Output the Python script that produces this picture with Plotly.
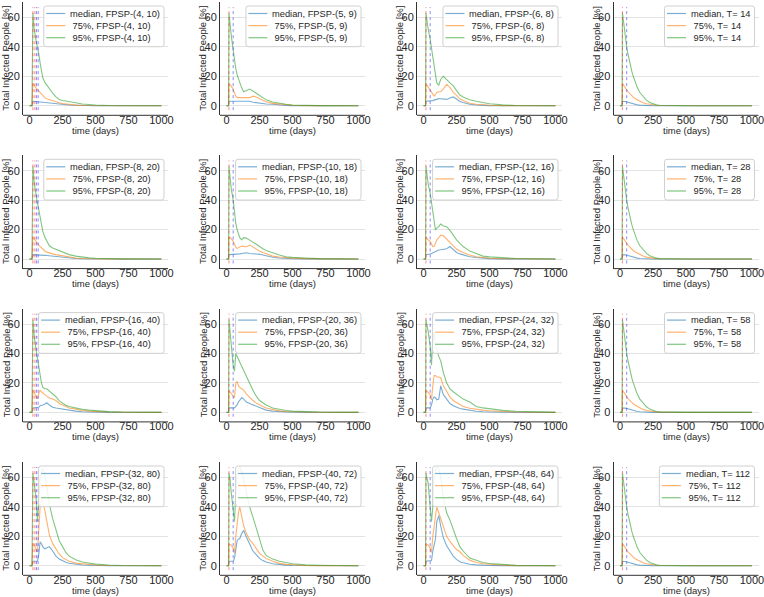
import plotly.graph_objects as go

W, H = 764, 597

# ---------------- data ----------------
DAYS = [0, 10, 15, 18, 25, 35, 50, 60, 70, 80, 90, 100, 115, 130, 150, 175,
        200, 225, 250, 275, 300, 350, 400, 450, 500, 600, 700, 1000]

X_TICKS = [0, 250, 500, 750, 1000]
Y_TICKS = [0, 20, 40, 60]
VLINE_Y = [-3, 67]

# column 1 switching days / columns 2-4 switching days
RED_C1, BLUE_C1 = [25, 40], [52, 65]
RED_CX, BLUE_CX = [18], [50]

# FPSP-(4, 10)
med_4_10 = [0, 0, 0, 0, 3, 2.9, 2.8, 2.7, 2.6, 2.5, 2.4, 2.3, 2.1, 1.9, 1.8, 1.6, 1.4, 1.1, 0.8, 0.6, 0.5, 0.3, 0.1, 0, 0, 0, 0, 0]
p75_4_10 = [0, 0, 0, 0, 15, 13.5, 12, 11, 10, 8.5, 7.5, 6.6, 5.5, 4.8, 4.2, 3, 2.4, 2, 1.5, 1.1, 0.8, 0.4, 0.2, 0.1, 0, 0, 0, 0]
p95_4_10 = [0, 0, 0, 0, 63, 52, 44, 40, 35, 29, 23, 19, 16, 14, 11.5, 8.5, 6, 4.3, 3.6, 3.3, 3, 2, 1.2, 0.8, 0.5, 0.2, 0.1, 0]
# FPSP-(5, 9)
med_5_9 = [0, 0, 0, 3, 3, 3, 3, 3, 3, 3, 3, 3, 3, 3, 3, 3, 2.4, 2, 1.8, 1.4, 1.2, 1, 0.5, 0.2, 0.1, 0, 0, 0]
p75_5_9 = [0, 0, 0, 15, 14.5, 13.5, 11, 8, 6.5, 5.5, 5.5, 5.6, 5.7, 5.5, 5.3, 5.5, 6.5, 6, 4.8, 3.5, 2.7, 1.6, 1, 0.5, 0.3, 0.1, 0, 0]
p95_5_9 = [0, 0, 0, 63, 55, 48, 38, 30, 25, 21, 18, 15, 12, 9.5, 10.5, 11.3, 10, 8.5, 6.5, 5, 4, 2.5, 1.6, 1, 0.5, 0.2, 0.1, 0]
# FPSP-(6, 8)
med_6_8 = [0, 0, 0, 3, 3, 3, 3, 3.2, 3.5, 3.8, 4.1, 4.5, 4.8, 4.7, 4.5, 4.3, 5.2, 6, 4.6, 2.9, 2.2, 1, 0.5, 0.2, 0.1, 0, 0, 0]
p75_6_8 = [0, 0, 0, 15, 14, 12.5, 10.6, 8.5, 7, 6.5, 7.5, 9, 9.5, 9.5, 11.5, 14.5, 12.5, 9, 7, 4.7, 3.5, 1.7, 1, 0.6, 0.3, 0.1, 0, 0]
p95_6_8 = [0, 0, 0, 63, 58, 52, 45, 39, 32, 27, 21, 15.5, 14, 18, 20, 17.5, 15.5, 13.5, 10.5, 7.3, 6, 4, 3, 2, 1.4, 0.6, 0.2, 0]
# FPSP-(8, 20)
med_8_20 = [0, 0, 0, 0, 3, 3, 2.9, 2.9, 2.8, 2.8, 2.7, 2.6, 2.5, 2.4, 2.2, 2, 1.8, 1.5, 1.2, 0.9, 0.7, 0.4, 0.2, 0.1, 0, 0, 0, 0]
p75_8_20 = [0, 0, 0, 0, 15, 13.5, 11.5, 10.5, 9.5, 8.5, 7.5, 6.5, 5.5, 4.7, 4, 3.5, 3, 2.6, 2, 1.6, 1.2, 0.7, 0.4, 0.2, 0.1, 0, 0, 0]
p95_8_20 = [0, 0, 0, 0, 63, 52, 43, 38, 33, 28, 23, 19, 15, 12, 9, 7.5, 6.5, 5.5, 4.5, 3.5, 3, 2, 1.3, 0.8, 0.5, 0.2, 0.1, 0]
# FPSP-(10, 18)
med_10_18 = [0, 0, 0, 3, 3, 3, 3.1, 3.2, 3.3, 3.4, 3.4, 3.5, 3.8, 4.1, 4.3, 3.8, 3.4, 3.4, 3.2, 2.6, 2, 1.2, 0.7, 0.4, 0.2, 0.1, 0, 0]
p75_10_18 = [0, 0, 0, 15, 14.5, 14, 12, 9.5, 8, 7.2, 7.8, 8.5, 8.8, 8.6, 8.4, 9.5, 8, 7, 5.5, 4.5, 3.5, 2, 1.4, 0.9, 0.6, 0.3, 0.1, 0]
p95_10_18 = [0, 0, 0, 63, 56, 48, 40, 30, 24, 20, 17, 14.5, 13, 14.5, 14.2, 13, 11.5, 10, 8.2, 7, 5.8, 4, 2.7, 1.6, 1.1, 0.7, 0.3, 0]
# FPSP-(12, 16)
med_12_16 = [0, 0, 0, 3, 3, 3.2, 3.4, 3.8, 4.3, 4.8, 5.3, 5.8, 6.1, 6.3, 6.5, 7, 8.5, 6.3, 4.5, 3.5, 2.7, 1.6, 1, 0.5, 0.3, 0.1, 0, 0]
p75_12_16 = [0, 0, 0, 15, 14, 13, 11.8, 10, 8.6, 8.5, 11, 12.9, 14.5, 16.3, 15.8, 13.5, 11.5, 8.8, 6.8, 5.5, 4.4, 2.8, 1.6, 1, 0.5, 0.2, 0.1, 0]
p95_12_16 = [0, 0, 0, 63, 57, 51, 44.6, 37, 30, 26, 19.7, 21, 22, 23.8, 22.5, 22, 19.5, 16, 13, 10.6, 8.5, 5.4, 3.5, 2, 1.5, 0.8, 0.4, 0]
# FPSP-(16, 40)
med_16_40 = [0, 0, 0, 0, 3, 3, 3, 3.1, 3.5, 4.5, 5, 5, 5.5, 6.5, 5, 3.5, 3, 2.6, 2.2, 1.8, 1.5, 0.8, 0.4, 0.2, 0.1, 0, 0, 0]
p75_16_40 = [0, 0, 0, 0, 15, 13, 10.5, 9.2, 13, 15, 14, 13, 12, 11, 9.8, 9, 8, 6, 4.9, 4, 3, 2.2, 1.2, 0.8, 0.5, 0.2, 0.1, 0]
p95_16_40 = [0, 0, 0, 0, 63, 52, 42, 36, 29, 24, 20, 17, 16, 16, 14.5, 12.5, 10.6, 7.8, 6.2, 4.8, 4, 2.8, 2, 1.5, 1.1, 0.5, 0.2, 0]
# FPSP-(20, 36)
med_20_36 = [0, 0, 0, 3, 3, 3, 3, 3, 4, 5, 7, 8, 10, 9, 7, 6, 5, 4, 3, 2.2, 1.5, 0.8, 0.4, 0.2, 0.1, 0, 0, 0]
p75_20_36 = [0, 0, 0, 15, 14, 13, 11, 10, 20, 21, 18, 17, 16, 15, 12.5, 10, 8, 6.3, 5, 4, 3, 1.8, 1, 0.6, 0.4, 0.2, 0.1, 0]
p95_20_36 = [0, 0, 0, 63, 55, 45, 32, 28, 40, 38, 36, 34, 31, 28, 25, 20, 15, 11, 8, 6.5, 5, 3, 2, 1.2, 0.8, 0.4, 0.2, 0]
# FPSP-(24, 32)
med_24_32 = [0, 0, 0, 3, 3, 3, 3, 5, 9, 10.5, 10, 8.5, 9, 18, 12, 9, 6, 4.5, 3.3, 2.6, 2.2, 1.3, 0.7, 0.4, 0.2, 0.1, 0, 0]
p75_24_32 = [0, 0, 0, 15, 14.5, 13.5, 12, 8.5, 18, 25, 25, 24, 24, 23.5, 18, 14, 10.5, 8, 6.5, 5, 4, 2.8, 2, 1.5, 1.1, 0.5, 0.2, 0]
p95_24_32 = [0, 0, 0, 63, 60, 55, 45, 32, 50, 54, 46, 42, 38, 35, 27, 20, 16, 14, 12.5, 10.5, 9, 7, 4, 3, 2.3, 1.3, 0.7, 0]
# FPSP-(32, 80)
med_32_80 = [0, 0, 0, 0, 3, 3, 3, 3.2, 8, 16.3, 15, 13, 11.5, 12, 13, 10, 6.5, 4.5, 3.2, 2.3, 1.7, 1, 0.5, 0.3, 0.1, 0, 0, 0]
p75_32_80 = [0, 0, 0, 0, 15, 14, 11, 9.5, 25, 40, 45, 43, 38, 30, 21, 15, 11, 8, 5.5, 4, 3, 1.8, 1.2, 0.8, 0.5, 0.2, 0.1, 0]
p95_32_80 = [0, 0, 0, 0, 63, 55, 45, 30, 48, 60, 65, 66, 62, 52, 42, 32, 24, 17, 13, 9, 6.5, 4, 2.5, 1.6, 1.1, 0.5, 0.2, 0]
# FPSP-(40, 72)
med_40_72 = [0, 0, 0, 3, 3, 3, 3, 5, 10, 17, 18, 18.5, 22, 24, 19.5, 14.5, 10, 7.5, 5, 3.5, 2.5, 1.4, 0.8, 0.4, 0.2, 0.1, 0, 0]
p75_40_72 = [0, 0, 0, 15, 14.5, 14, 12, 8.5, 20, 31, 36, 40, 33, 27, 22, 17.5, 15, 12, 8.4, 6.5, 5, 3, 1.6, 0.9, 0.6, 0.2, 0.1, 0]
p95_40_72 = [0, 0, 0, 63, 60, 50, 36, 30, 50, 62, 66, 67, 64, 58, 48, 40, 33, 26, 18, 10.6, 7, 4.5, 3, 2.2, 1.4, 0.6, 0.3, 0]
# FPSP-(48, 64)
med_48_64 = [0, 0, 0, 3, 3, 3, 3, 3.5, 10, 14, 18, 30, 34, 27, 19, 13.5, 9.5, 6.5, 4.3, 2.7, 2, 1, 0.6, 0.3, 0.2, 0.1, 0, 0]
p75_48_64 = [0, 0, 0, 15, 14.5, 14, 12, 9, 20, 28, 36, 40, 36, 32, 26, 20, 16.5, 14, 11, 9.5, 7, 3.8, 2.2, 1.4, 1, 0.4, 0.1, 0]
p95_48_64 = [0, 0, 0, 63, 60, 56, 40, 30, 40, 60, 65, 67, 66, 60, 46, 36, 31, 24, 18.5, 13, 10, 5.2, 3.5, 2.2, 1.5, 0.7, 0.3, 0]
# T = 14 / 28 / 58 / 112 (the four panels look alike)
med_T = [0, 0, 0, 3, 3, 2.9, 2.7, 2.4, 2.1, 1.8, 1.5, 1.2, 0.9, 0.6, 0.4, 0.2, 0.1, 0.05, 0, 0, 0, 0, 0, 0, 0, 0, 0, 0]
p75_T = [0, 0, 0, 15, 14, 12.5, 10.5, 9.5, 8.5, 7.5, 6.6, 5.8, 4.8, 4, 3, 2, 1.3, 0.8, 0.5, 0.3, 0.15, 0.05, 0, 0, 0, 0, 0, 0]
p95_T = [0, 0, 0, 63, 57, 49, 40, 35, 30.5, 26.5, 23, 20, 16, 12.5, 9, 6, 3.8, 2.2, 1.2, 0.6, 0.3, 0.1, 0, 0, 0, 0, 0, 0]

PANELS = [
    ("FPSP-(4, 10)", med_4_10, p75_4_10, p95_4_10, RED_C1, BLUE_C1),
    ("FPSP-(5, 9)", med_5_9, p75_5_9, p95_5_9, RED_CX, BLUE_CX),
    ("FPSP-(6, 8)", med_6_8, p75_6_8, p95_6_8, RED_CX, BLUE_CX),
    ("T= 14", med_T, p75_T, p95_T, RED_CX, BLUE_CX),
    ("FPSP-(8, 20)", med_8_20, p75_8_20, p95_8_20, RED_C1, BLUE_C1),
    ("FPSP-(10, 18)", med_10_18, p75_10_18, p95_10_18, RED_CX, BLUE_CX),
    ("FPSP-(12, 16)", med_12_16, p75_12_16, p95_12_16, RED_CX, BLUE_CX),
    ("T= 28", med_T, p75_T, p95_T, RED_CX, BLUE_CX),
    ("FPSP-(16, 40)", med_16_40, p75_16_40, p95_16_40, RED_C1, BLUE_C1),
    ("FPSP-(20, 36)", med_20_36, p75_20_36, p95_20_36, RED_CX, BLUE_CX),
    ("FPSP-(24, 32)", med_24_32, p75_24_32, p95_24_32, RED_CX, BLUE_CX),
    ("T= 58", med_T, p75_T, p95_T, RED_CX, BLUE_CX),
    ("FPSP-(32, 80)", med_32_80, p75_32_80, p95_32_80, RED_C1, BLUE_C1),
    ("FPSP-(40, 72)", med_40_72, p75_40_72, p95_40_72, RED_CX, BLUE_CX),
    ("FPSP-(48, 64)", med_48_64, p75_48_64, p95_48_64, RED_CX, BLUE_CX),
    ("T= 112", med_T, p75_T, p95_T, RED_CX, BLUE_CX),
]

# ---------------- styling / layout ----------------
SERIES_COL = ["rgba(31,119,180,0.6)", "rgba(255,127,14,0.6)", "rgba(44,160,44,0.6)"]
RED_V = "rgba(255,40,40,0.55)"
BLUE_V = "rgba(40,40,255,0.55)"
FONT = "Liberation Sans, Arial, sans-serif"
TXT = "#262626"
SPINE = "#333333"

COL_LEFT = [23, 220, 417, 613.5]
ROW_TOP = [2, 155.3, 308.6, 462]
PW, PH = 145, 113.3

CW = {'m': 833, 'e': 556, 'd': 556, 'i': 222, 'a': 556, 'n': 556, ',': 278, ' ': 278,
      '\u00a0': 278, 'F': 611, 'P': 667, 'S': 667, '-': 333, '(': 333, ')': 333,
      '%': 889, 'T': 611, '=': 584}


def text_w(s, fs):
    return sum(CW.get(c, 556) for c in s) / 1000 * fs


def px(v):
    return v / W


def py(v):
    return 1 - v / H


fig = go.Figure()
shapes, annotations = [], []
LFS = 9.3

for k, (lab, med, p75, p95, reds, blues) in enumerate(PANELS):
    r, c = divmod(k, 4)
    left, top = COL_LEFT[c], ROW_TOP[r]
    bottom = top + PH
    xa, ya = f"x{k + 1}", f"y{k + 1}"
    names = [f"median, {lab}", f"\u00a075%, {lab}", f"\u00a095%, {lab}"]
    for vals, col, nm in zip((med, p75, p95), SERIES_COL, names):
        fig.add_trace(go.Scatter(x=DAYS, y=vals, mode="lines", name=nm,
                                 line=dict(color=col, width=1.1), xaxis=xa, yaxis=ya,
                                 showlegend=False, hoverinfo="x+y+name"))
    for d in reds:
        fig.add_trace(go.Scatter(x=[d, d], y=VLINE_Y, mode="lines", showlegend=False,
                                 line=dict(color=RED_V, width=1, dash="dot"),
                                 xaxis=xa, yaxis=ya, hoverinfo="skip"))
    for d in blues:
        fig.add_trace(go.Scatter(x=[d, d], y=VLINE_Y, mode="lines", showlegend=False,
                                 line=dict(color=BLUE_V, width=1, dash="dot"),
                                 xaxis=xa, yaxis=ya, hoverinfo="skip"))

    axkey = "" if k == 0 else str(k + 1)
    fig.update_layout(**{
        f"xaxis{axkey}": dict(domain=[px(left), px(left + PW)], anchor="free",
                              position=py(bottom - 3.5),
                              range=[-50, 1050], tickvals=X_TICKS, showgrid=False,
                              zeroline=False, showline=False, ticks="", automargin=False,
                              ticklabeloverflow="allow",
                              tickfont=dict(size=11, color=TXT, family=FONT)),
        f"yaxis{axkey}": dict(domain=[py(bottom), py(top)], anchor=xa,
                              range=[-6.5, 70.5], tickvals=Y_TICKS, showgrid=True,
                              gridcolor="#e3e3e3", gridwidth=1, zeroline=False,
                              showline=True, linecolor=SPINE, linewidth=1, ticks="",
                              automargin=False, ticklabeloverflow="allow",
                              tickfont=dict(size=11, color=TXT, family=FONT)),
    })

    # bottom spine
    shapes.append(dict(type="line", xref="paper", yref="paper",
                       x0=px(left), x1=px(left + PW), y0=py(bottom), y1=py(bottom),
                       line=dict(color=SPINE, width=1), layer="above"))

    # axis titles
    annotations.append(dict(text="time (days)", xref="paper", yref="paper",
                            x=px(left + PW / 2), y=py(bottom + 15),
                            xanchor="center", yanchor="middle", showarrow=False,
                            font=dict(size=9.5, color=TXT, family=FONT)))
    annotations.append(dict(text="Total Infected People [%]", xref="paper", yref="paper",
                            x=px(left - 17), y=py(top + PH / 2), textangle=-90,
                            xanchor="center", yanchor="middle", showarrow=False,
                            font=dict(size=9.5, color=TXT, family=FONT)))

    # legend box
    tw = max(text_w(n, LFS) for n in names)
    bw, bh = tw + 30.3, 40.7
    bx1 = left + PW - 4
    bx0 = bx1 - bw
    by0 = top + 4
    by1 = by0 + bh
    rr = 2.5
    path = (f"M {px(bx0 + rr)},{py(by0)} L {px(bx1 - rr)},{py(by0)} "
            f"Q {px(bx1)},{py(by0)} {px(bx1)},{py(by0 + rr)} "
            f"L {px(bx1)},{py(by1 - rr)} Q {px(bx1)},{py(by1)} {px(bx1 - rr)},{py(by1)} "
            f"L {px(bx0 + rr)},{py(by1)} Q {px(bx0)},{py(by1)} {px(bx0)},{py(by1 - rr)} "
            f"L {px(bx0)},{py(by0 + rr)} Q {px(bx0)},{py(by0)} {px(bx0 + rr)},{py(by0)} Z")
    shapes.append(dict(type="path", path=path, xref="paper", yref="paper",
                       fillcolor="rgba(255,255,255,0.85)", line=dict(color="#d0d0d0", width=1),
                       layer="above"))
    for i, (nm, col) in enumerate(zip(names, SERIES_COL)):
        yc = by0 + 7.5 + 12.1 * i
        shapes.append(dict(type="line", xref="paper", yref="paper",
                           x0=px(bx0 + 2.5), x1=px(bx0 + 21.5), y0=py(yc), y1=py(yc),
                           line=dict(color=col, width=1.2), layer="above"))
        annotations.append(dict(text=nm, xref="paper", yref="paper",
                                x=px(bx0 + 25.2), y=py(yc), xanchor="left", yanchor="middle",
                                showarrow=False, borderpad=0,
                                font=dict(size=LFS, color=TXT, family=FONT)))

fig.update_layout(width=W, height=H, margin=dict(l=0, r=0, t=0, b=0, autoexpand=False),
                  paper_bgcolor="white", plot_bgcolor="white", showlegend=False,
                  shapes=shapes, annotations=annotations,
                  font=dict(family=FONT, color=TXT))

fig.write_html("out.html", config={"displayModeBar": False},
               post_script="document.body.style.margin='0';document.body.style.padding='0';")
